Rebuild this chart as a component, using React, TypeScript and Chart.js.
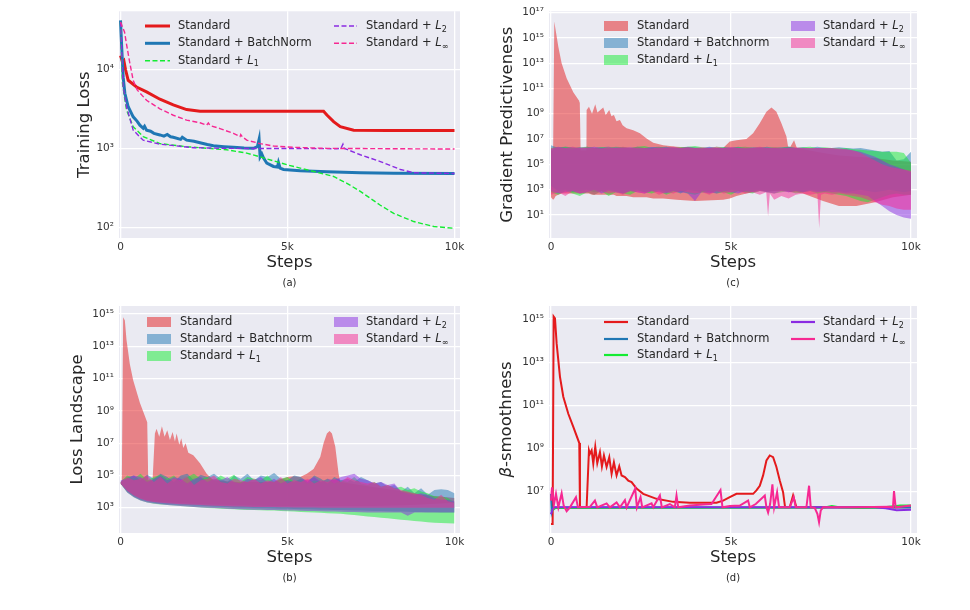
import React, { useEffect, useRef } from 'react';
import { Chart, registerables } from 'chart.js';

Chart.register(...registerables);
Chart.defaults.font.family = '"DejaVu Sans", sans-serif';

const W = 970;
const H = 610;
const BG = '#EAEAF2';
const TEXT = '#262626';
const TICK = '#333333';

// series colours: Standard, BatchNorm, L1, L2, Linf
const COLORS = ['#E41A1C', '#1F77B4', '#14EB32', '#8A2BE2', '#F62892'];
const FILLS = ['rgba(228,26,28,0.5)', 'rgba(31,119,180,0.5)', 'rgba(20,235,50,0.5)', 'rgba(138,43,226,0.5)', 'rgba(246,40,146,0.5)'];

const legendLabelsA = ['Standard', 'Standard + BatchNorm', 'Standard + L_1', 'Standard + L_2', 'Standard + L_∞'];
const legendLabels = ['Standard', 'Standard + Batchnorm', 'Standard + L_1', 'Standard + L_2', 'Standard + L_∞'];

const xTickValues = [0, 5000, 10000];
const xTickLabels = ['0', '5k', '10k'];

const yTicksA = [1e2, 1e3, 1e4];
const yTickLabelsA = ['10²', '10³', '10⁴'];
const yTicksB = [1e3, 1e5, 1e7, 1e9, 1e11, 1e13, 1e15];
const yTickLabelsB = ['10³', '10⁵', '10⁷', '10⁹', '10¹¹', '10¹³', '10¹⁵'];
const yTicksC = [1e1, 1e3, 1e5, 1e7, 1e9, 1e11, 1e13, 1e15, 1e17];
const yTickLabelsC = ['10¹', '10³', '10⁵', '10⁷', '10⁹', '10¹¹', '10¹³', '10¹⁵', '10¹⁷'];
const yTicksD = [1e7, 1e9, 1e11, 1e13, 1e15];
const yTickLabelsD = ['10⁷', '10⁹', '10¹¹', '10¹³', '10¹⁵'];

// ---------------- (a) Training loss ----------------
const aStdSteps = [0, 60, 100, 150, 230, 480, 780, 1180, 1580, 1980, 2380, 3000, 4000, 5000, 6080, 6180, 6380, 6580, 6980, 8000, 10000];
const aStdLoss = [15000, 12500, 13000, 10000, 7300, 6000, 5200, 4200, 3550, 3100, 2950, 2950, 2950, 2950, 2950, 2650, 2180, 1880, 1700, 1680, 1680];
const aBnSteps = [0, 40, 80, 130, 230, 380, 500, 580, 680, 720, 780, 900, 1000, 1180, 1300, 1400, 1500, 1580, 1800, 1850, 1980, 2200, 2380, 2600, 2780, 3100, 3380, 3700, 3980, 4100, 4150, 4180, 4230, 4280, 4330, 4380, 4580, 4700, 4730, 4780, 4880, 5380, 6180, 7180, 8180, 10000];
const aBnLoss = [42000, 17600, 8000, 5000, 3370, 2510, 2200, 1970, 1800, 1900, 1700, 1650, 1550, 1480, 1430, 1500, 1400, 1380, 1300, 1380, 1270, 1230, 1180, 1120, 1080, 1050, 1030, 1010, 1000, 1050, 1300, 780, 850, 760, 700, 650, 590, 580, 660, 560, 540, 520, 505, 490, 485, 480];
const aL1Steps = [0, 60, 180, 380, 680, 1180, 1980, 3180, 3780, 4180, 4980, 5780, 6380, 6780, 7180, 7780, 8180, 8780, 9380, 10000];
const aL1Loss = [40000, 6600, 3060, 1880, 1410, 1150, 1050, 960, 870, 780, 620, 510, 440, 360, 285, 190, 150, 118, 102, 97];
const aL2Steps = [0, 80, 180, 380, 680, 1180, 2180, 3180, 6480, 6600, 6660, 6700, 6780, 7180, 7780, 8380, 8780, 10000];
const aL2Loss = [40000, 6000, 3370, 1700, 1270, 1130, 1020, 1000, 990, 1000, 1130, 1000, 970, 830, 680, 540, 490, 480];
const aLinfSteps = [0, 120, 180, 280, 380, 500, 780, 1180, 1580, 1980, 2380, 2580, 2630, 2680, 2980, 3380, 3580, 3600, 3650, 3780, 4180, 4580, 5180, 6180, 10000];
const aLinfLoss = [40000, 30000, 21000, 12000, 7300, 5500, 4070, 3170, 2630, 2280, 2110, 1970, 2100, 1950, 1780, 1550, 1410, 1500, 1400, 1270, 1150, 1070, 1030, 1000, 980];

// shared step grid for the noisy bands
const gridSteps = [0, 200, 400, 600, 800, 1000, 1200, 1400, 1600, 1800, 2000, 2200, 2400, 2600, 2800, 3000, 3200, 3400, 3600, 3800, 4000, 4200, 4400, 4600, 4800, 5000, 5200, 5400, 5600, 5800, 6000, 6200, 6400, 6600, 6800, 7000, 7200, 7400, 7600, 7800, 8000, 8200, 8400, 8600, 8800, 9000, 9200, 9400, 9600, 9800, 10000];

// ---------------- (b) Loss landscape (log10 of band edges) ----------------
const bStdSteps = [0, 40, 80, 130, 180, 280, 380, 580, 800, 830, 960, 1030, 1080, 1160, 1240, 1320, 1400, 1480, 1560, 1630, 1680, 1760, 1820, 1880, 1950, 2030, 2180, 2380, 2580, 2780, 3500, 4580, 5000, 5180, 5380, 5580, 5780, 5980, 6080, 6180, 6260, 6330, 6430, 6530, 6580, 7500, 8500, 9000, 10000];
const bStdUpLog = [4.6, 4.6, 14.8, 14.6, 13.4, 11.9, 10.9, 9.5, 8.3, 4.7, 4.7, 7.6, 7.9, 7.4, 8.05, 7.4, 7.8, 7.2, 7.7, 7.1, 7.6, 6.9, 7.3, 6.7, 7.0, 6.4, 6.25, 5.75, 5.1, 4.7, 4.6, 4.6, 4.9, 4.95, 4.9, 5.1, 5.4, 6.15, 7.0, 7.6, 7.75, 7.6, 6.8, 5.1, 4.6, 4.3, 4.0, 3.8, 3.6];
const bStdLoLog = [4.45, 4.4, 4.3, 4.2, 4.1, 3.95, 3.8, 3.6, 3.45, 3.44, 3.4, 3.38, 3.37, 3.36, 3.35, 3.34, 3.33, 3.32, 3.31, 3.3, 3.3, 3.29, 3.28, 3.28, 3.27, 3.26, 3.25, 3.23, 3.21, 3.2, 3.15, 3.1, 3.1, 3.1, 3.1, 3.1, 3.1, 3.1, 3.1, 3.1, 3.1, 3.1, 3.1, 3.1, 3.1, 3.1, 3.15, 3.2, 3.3];
const bBnUpLog = [4.6, 4.9, 5.0, 4.7, 5.05, 4.8, 5.1, 4.9, 4.6, 5.0, 5.1, 4.7, 5.05, 4.9, 5.1, 4.8, 4.6, 5.0, 4.8, 5.1, 4.7, 5.0, 4.9, 5.15, 4.8, 4.7, 5.0, 4.9, 4.6, 5.0, 4.8, 4.5, 4.9, 4.7, 4.8, 4.6, 4.9, 4.7, 4.5, 4.6, 4.3, 4.4, 4.0, 4.3, 3.9, 4.2, 3.8, 4.1, 4.15, 4.1, 3.9];
const bBnLoLog = [4.5, 4.0, 3.7, 3.5, 3.38, 3.3, 3.25, 3.22, 3.2, 3.18, 3.16, 3.14, 3.12, 3.1, 3.08, 3.06, 3.04, 3.02, 3.0, 2.99, 2.98, 2.97, 2.96, 2.95, 2.94, 2.93, 2.92, 2.91, 2.9, 2.89, 2.88, 2.87, 2.86, 2.85, 2.84, 2.83, 2.82, 2.81, 2.8, 2.79, 2.78, 2.77, 2.76, 2.75, 2.74, 2.73, 2.72, 2.72, 2.71, 2.71, 2.71];
const bL1UpLog = [4.6, 5.0, 4.8, 5.1, 4.7, 4.9, 5.05, 4.8, 5.0, 4.6, 4.9, 5.1, 4.8, 4.9, 4.7, 5.0, 4.8, 5.05, 4.6, 4.9, 4.8, 4.7, 5.0, 4.6, 4.8, 4.9, 4.6, 4.8, 4.5, 4.7, 4.6, 4.8, 4.5, 4.7, 4.6, 4.9, 4.5, 4.4, 4.6, 4.3, 4.4, 4.2, 4.3, 4.1, 4.2, 4.0, 3.9, 3.7, 3.7, 3.6, 3.3];
const bL1LoLog = [4.5, 3.95, 3.65, 3.45, 3.33, 3.25, 3.2, 3.16, 3.13, 3.1, 3.07, 3.04, 3.01, 2.98, 2.96, 2.94, 2.92, 2.9, 2.88, 2.86, 2.85, 2.84, 2.83, 2.82, 2.8, 2.78, 2.76, 2.74, 2.72, 2.7, 2.68, 2.66, 2.64, 2.62, 2.58, 2.54, 2.5, 2.46, 2.42, 2.38, 2.34, 2.3, 2.26, 2.22, 2.18, 2.14, 2.1, 2.07, 2.05, 2.03, 2.02];
const bL2UpLog = [4.7, 4.8, 5.0, 4.9, 4.6, 4.8, 5.0, 4.7, 4.9, 4.8, 4.5, 4.8, 4.9, 4.6, 4.8, 4.7, 4.9, 4.6, 4.5, 4.8, 4.7, 4.9, 4.6, 4.8, 4.5, 4.7, 4.6, 4.8, 4.7, 4.9, 4.6, 4.8, 4.7, 4.9, 5.0, 5.1, 4.8, 4.7, 4.5, 4.6, 4.4, 4.5, 4.0, 3.9, 3.8, 3.9, 3.8, 3.6, 3.5, 3.5, 3.4];
const bL2LoLog = [4.5, 3.95, 3.65, 3.45, 3.33, 3.26, 3.21, 3.17, 3.14, 3.11, 3.08, 3.05, 3.02, 3.0, 2.98, 2.96, 2.94, 2.92, 2.9, 2.89, 2.88, 2.87, 2.86, 2.85, 2.84, 2.83, 2.82, 2.81, 2.8, 2.79, 2.78, 2.77, 2.76, 2.75, 2.74, 2.73, 2.72, 2.71, 2.71, 2.7, 2.7, 2.7, 2.7, 2.5, 2.7, 2.7, 2.7, 2.7, 2.7, 2.7, 2.7];
const bLinfUpLog = [4.6, 4.9, 4.7, 4.8, 5.0, 4.6, 4.9, 4.5, 4.8, 4.7, 4.9, 4.4, 4.7, 4.8, 5.0, 4.6, 4.5, 4.8, 4.7, 4.6, 4.8, 4.5, 4.7, 4.6, 4.9, 4.5, 4.7, 4.6, 4.8, 4.5, 4.7, 4.6, 4.8, 4.6, 4.9, 4.7, 4.6, 4.5, 4.6, 4.3, 4.4, 4.2, 4.1, 4.0, 3.9, 3.8, 3.6, 3.5, 3.8, 3.4, 3.3];
const bLinfLoLog = [4.5, 4.05, 3.75, 3.55, 3.42, 3.35, 3.3, 3.27, 3.24, 3.22, 3.2, 3.18, 3.16, 3.14, 3.12, 3.1, 3.09, 3.08, 3.07, 3.06, 3.05, 3.05, 3.04, 3.04, 3.03, 3.03, 3.02, 3.02, 3.01, 3.01, 3.0, 3.0, 3.0, 3.0, 3.0, 3.0, 3.0, 3.0, 3.0, 3.0, 3.0, 3.0, 3.0, 3.0, 3.0, 3.0, 3.0, 3.0, 3.0, 3.0, 3.0];

// ---------------- (c) Gradient predictiveness (log10 of band edges) ----------------
const cStdSteps = [0, 60, 92, 130, 204, 296, 435, 620, 786, 800, 823, 985, 990, 1055, 1140, 1230, 1290, 1452, 1520, 1619, 1680, 1748, 1820, 1915, 1990, 2100, 2285, 2470, 2655, 2840, 3117, 3487, 4000, 4782, 4967, 5152, 5430, 5615, 5800, 5985, 6124, 6262, 6400, 6540, 6586, 6650, 6752, 6830, 7000, 7557, 8000, 8482, 9000, 9500, 10000];
const cStdUpLog = [6.1, 6.1, 16.3, 15.6, 14.3, 13.0, 11.8, 10.7, 10.0, 9.9, 6.1, 6.1, 9.3, 9.55, 9.0, 9.75, 9.1, 9.5, 8.9, 9.3, 8.8, 8.9, 8.4, 8.5, 8.1, 7.85, 7.7, 7.45, 7.05, 6.7, 6.5, 6.4, 6.3, 6.3, 6.8, 6.9, 7.0, 7.45, 8.25, 9.15, 9.5, 9.15, 8.25, 7.2, 6.4, 6.4, 6.9, 6.3, 6.2, 5.9, 5.7, 5.6, 5.5, 5.3, 5.2];
const cStdLoLog = [2.4, 2.2, 2.3, 2.5, 2.6, 2.7, 2.7, 2.7, 2.7, 2.7, 2.7, 2.7, 2.7, 2.7, 2.6, 2.6, 2.6, 2.6, 2.6, 2.6, 2.6, 2.6, 2.5, 2.5, 2.5, 2.5, 2.4, 2.4, 2.4, 2.3, 2.3, 2.2, 2.1, 2.2, 2.3, 2.5, 2.7, 2.8, 2.9, 2.9, 2.9, 2.9, 2.9, 2.9, 2.9, 2.8, 2.8, 2.8, 2.7, 2.1, 1.7, 1.7, 2.0, 2.4, 2.6];
const cBnUpLog = [6.5, 6.3, 6.4, 6.35, 6.25, 6.4, 6.3, 6.35, 6.4, 6.3, 6.35, 6.25, 6.4, 6.3, 6.35, 6.4, 6.3, 6.35, 6.3, 6.4, 6.35, 6.3, 6.4, 6.3, 6.35, 6.3, 6.4, 6.3, 6.35, 6.3, 6.4, 6.3, 6.35, 6.4, 6.3, 6.35, 6.3, 6.4, 6.3, 6.3, 6.35, 6.3, 6.25, 6.3, 6.2, 6.1, 6.0, 6.05, 5.3, 5.4, 6.0];
const cBnLoLog = [3.3, 2.9, 3.0, 2.8, 2.9, 3.0, 2.8, 2.9, 3.0, 2.9, 2.7, 2.9, 3.0, 2.8, 2.9, 3.0, 2.8, 2.9, 2.7, 3.0, 2.9, 2.8, 2.7, 2.9, 2.8, 3.0, 2.9, 2.8, 2.9, 3.0, 2.8, 2.9, 3.0, 2.8, 2.9, 2.8, 3.0, 2.9, 2.8, 3.0, 2.9, 2.8, 2.9, 3.0, 2.9, 2.8, 2.9, 3.0, 2.9, 2.8, 2.9];
const cL1UpLog = [6.3, 6.35, 6.4, 6.3, 6.35, 6.4, 6.3, 6.35, 6.3, 6.4, 6.35, 6.3, 6.4, 6.45, 6.3, 6.35, 6.4, 6.3, 6.35, 6.4, 6.45, 6.35, 6.3, 6.4, 6.35, 6.3, 6.35, 6.4, 6.3, 6.35, 6.3, 6.35, 6.3, 6.4, 6.3, 6.35, 6.4, 6.3, 6.35, 6.3, 6.25, 6.3, 6.2, 6.15, 6.1, 6.05, 6.0, 6.0, 6.0, 5.9, 5.1];
const cL1LoLog = [2.8, 2.6, 2.9, 2.7, 2.5, 2.8, 2.6, 2.9, 2.5, 2.8, 2.7, 2.6, 2.9, 2.8, 2.7, 2.9, 2.6, 2.8, 2.9, 2.7, 2.6, 2.8, 2.9, 2.7, 2.8, 2.6, 2.9, 2.8, 2.7, 2.9, 2.8, 2.7, 2.8, 2.9, 2.7, 2.8, 2.9, 2.7, 2.8, 2.7, 2.6, 2.5, 2.3, 2.1, 2.0, 2.2, 2.4, 2.6, 2.7, 2.6, 2.6];
const cL2UpLog = [6.2, 6.4, 6.3, 6.25, 6.35, 6.3, 6.4, 6.3, 6.25, 6.35, 6.3, 6.35, 6.25, 6.3, 6.35, 6.3, 6.4, 6.3, 6.3, 6.35, 6.3, 6.25, 6.35, 6.3, 6.3, 6.35, 6.3, 6.25, 6.3, 6.35, 6.3, 6.3, 6.25, 6.35, 6.3, 6.3, 6.25, 6.3, 6.3, 6.25, 6.2, 6.2, 6.1, 6.0, 5.8, 5.6, 5.3, 5.0, 4.8, 4.6, 4.4];
const cL2LoLog = [2.9, 2.7, 2.8, 2.9, 2.7, 2.8, 3.0, 2.7, 2.9, 2.8, 2.7, 2.9, 2.8, 2.7, 2.9, 2.8, 2.7, 2.9, 2.8, 2.7, 2.1, 2.9, 2.8, 2.7, 2.9, 2.8, 2.7, 2.9, 2.8, 2.9, 2.8, 2.7, 2.9, 2.8, 2.9, 2.8, 2.9, 2.8, 2.9, 2.8, 2.8, 2.7, 2.7, 2.6, 2.5, 2.1, 1.7, 1.3, 1.0, 0.8, 0.7];
const cLinfSteps = [0, 200, 400, 600, 800, 1000, 1200, 1400, 1600, 1800, 2000, 2200, 2400, 2600, 2800, 3000, 3200, 3400, 3600, 3800, 4000, 4200, 4400, 4600, 4800, 5000, 5200, 5400, 5600, 5800, 5980, 6030, 6080, 6200, 6400, 6600, 6800, 7000, 7200, 7400, 7450, 7500, 7600, 7800, 8000, 8200, 8400, 8600, 8800, 9000, 9200, 9400, 9600, 9800, 10000];
const cLinfUpLog = [6.3, 6.35, 6.3, 6.4, 6.3, 6.35, 6.3, 6.25, 6.35, 6.3, 6.4, 6.3, 6.35, 6.3, 6.25, 6.35, 6.3, 6.4, 6.3, 6.35, 6.3, 6.35, 6.3, 6.4, 6.3, 6.35, 6.3, 6.35, 6.3, 6.4, 6.3, 6.3, 6.3, 6.35, 6.3, 6.3, 6.35, 6.3, 6.3, 6.3, 6.3, 6.3, 6.3, 6.3, 6.25, 6.2, 6.1, 5.9, 5.6, 5.3, 5.0, 4.8, 4.7, 4.6, 4.5];
const cLinfLoLog = [2.6, 2.8, 2.5, 2.9, 2.7, 2.8, 2.6, 2.9, 2.7, 2.8, 2.6, 2.9, 2.8, 2.7, 2.9, 2.6, 2.8, 2.7, 2.9, 2.8, 2.7, 2.8, 2.6, 2.9, 2.7, 2.8, 2.9, 2.7, 2.8, 2.6, 2.8, 0.9, 2.7, 2.2, 2.5, 2.3, 2.6, 2.7, 2.6, 2.7, -0.05, 2.6, 2.7, 2.6, 2.7, 2.6, 2.5, 2.4, 2.2, 2.0, 1.8, 1.7, 1.5, 1.4, 1.4];

// ---------------- (d) beta-smoothness ----------------
const dStdSteps = [0, 46, 74, 111, 157, 250, 342, 481, 620, 786, 805, 851, 990, 1055, 1082, 1129, 1175, 1230, 1286, 1360, 1415, 1471, 1545, 1619, 1684, 1748, 1822, 1896, 1961, 2054, 2146, 2239, 2377, 2562, 2932, 3395, 3857, 4597, 4782, 4967, 5152, 5337, 5615, 5707, 5800, 5892, 5985, 6077, 6170, 6262, 6355, 6447, 6503, 6540, 6632, 6725, 6817, 10000];
const dStdBeta = [3.2e5, 3.2e5, 1.3e15, 1.07e15, 7.4e13, 2.1e12, 2.5e11, 4.1e10, 1e10, 1.8e9, 1.9e6, 1.9e6, 1.9e6, 8.3e8, 5.8e8, 8.3e8, 2e8, 1.2e9, 2.1e8, 6.9e8, 1.5e8, 4.8e8, 1.4e8, 4e8, 6.8e7, 2.3e8, 5.7e7, 1.5e8, 5.7e7, 4.8e7, 3.3e7, 2.8e7, 1.4e7, 8e6, 4.7e6, 3.4e6, 3.1e6, 3.1e6, 3.9e6, 5.6e6, 8e6, 8e6, 8e6, 1.15e7, 1.9e7, 5.7e7, 2.8e8, 4.8e8, 4e8, 1.4e8, 3.3e7, 9.6e6, 1.9e6, 1.9e6, 1.9e6, 6.7e6, 1.9e6, 1.9e6];
const dBnSteps = [0, 20, 50, 100, 2000, 5000, 8000, 10000];
const dBnBeta = [8e6, 1.2e6, 1.8e6, 1.85e6, 1.85e6, 1.85e6, 1.85e6, 1.85e6];
const dL1Steps = [0, 60, 120, 3000, 7600, 7800, 8000, 8600, 9200, 9700, 10000];
const dL1Beta = [1.3e6, 1.5e6, 1.75e6, 1.8e6, 1.85e6, 2.2e6, 1.9e6, 1.75e6, 1.85e6, 2.3e6, 2.3e6];
const dL2Steps = [0, 40, 100, 3000, 6000, 9000, 9300, 9600, 10000];
const dL2Beta = [9e5, 1.5e6, 1.9e6, 1.9e6, 1.9e6, 1.9e6, 1.7e6, 1.4e6, 1.45e6];
const dLinfSteps = [0, 28, 83, 139, 204, 296, 352, 435, 527, 694, 749, 1082, 1221, 1286, 1545, 1637, 1822, 1915, 2054, 2100, 2340, 2387, 2488, 2535, 2794, 2840, 3025, 3080, 3302, 3440, 3487, 3534, 3857, 4227, 4459, 4708, 4764, 4967, 5245, 5476, 5522, 5689, 5939, 5985, 6031, 6087, 6151, 6198, 6281, 6336, 6632, 6743, 6799, 7095, 7169, 7215, 7326, 7400, 7446, 7493, 7557, 8482, 9407, 9500, 9528, 9574, 10000];
const dLinfBeta = [3.9e6, 1.6e7, 2.6e6, 8e6, 1.9e6, 8.5e6, 2.3e6, 1.26e6, 1.9e6, 5.6e6, 1.9e6, 2e6, 3.9e6, 1.9e6, 2.9e6, 1.9e6, 3.2e6, 1.9e6, 4.1e6, 1.9e6, 1.4e7, 1.9e6, 5.6e6, 1.9e6, 2.9e6, 1.9e6, 6.7e6, 1.9e6, 2.7e6, 1.9e6, 6.7e6, 1.9e6, 2.3e6, 2.6e6, 2.7e6, 1.2e7, 1.9e6, 2.2e6, 2.3e6, 3.9e6, 1.9e6, 2.7e6, 6.7e6, 1.9e6, 1.1e6, 2.7e6, 2.2e7, 1.9e6, 9.6e6, 1.9e6, 1.9e6, 5.6e6, 1.9e6, 1.9e6, 1.9e7, 1.9e6, 1.8e6, 9.5e5, 3.9e5, 1.35e6, 1.9e6, 1.9e6, 2e6, 1.9e6, 1.07e7, 1.9e6, 2.3e6];

// ---------------- helpers ----------------
const pts = (xs: number[], ys: number[]) => xs.map((x, i) => ({ x, y: ys[i] }));
const ptsLog = (xs: number[], es: number[]) => xs.map((x, i) => ({ x, y: Math.pow(10, es[i]) }));

function lineDs(xs: number[], ys: number[], k: number, width: number, dash: number[]) {
  return {
    data: pts(xs, ys), borderColor: COLORS[k], borderWidth: width, borderDash: dash,
    pointRadius: 0, fill: false, tension: 0, order: 5 - k,
  };
}

function bandDs(xs: number[], up: number[], lo: number[], k: number) {
  return [
    { data: ptsLog(xs, up), borderWidth: 0, borderColor: 'rgba(0,0,0,0)', pointRadius: 0, fill: false, tension: 0, order: 5 - k },
    { data: ptsLog(xs, lo), borderWidth: 0, borderColor: 'rgba(0,0,0,0)', pointRadius: 0, fill: 2 * k, backgroundColor: FILLS[k], tension: 0, order: 5 - k },
  ];
}

type Part = { t: string; it?: boolean };

function drawParts(ctx: CanvasRenderingContext2D, parts: Part[], x: number, y: number, size: number, center: boolean) {
  const fonts = parts.map((p) => `${p.it ? 'italic ' : ''}${size}px "DejaVu Sans"`);
  let total = 0;
  parts.forEach((p, i) => { ctx.font = fonts[i]; total += ctx.measureText(p.t).width; });
  let cx = center ? x - total / 2 : x;
  ctx.textAlign = 'left';
  ctx.textBaseline = 'middle';
  parts.forEach((p, i) => { ctx.font = fonts[i]; ctx.fillText(p.t, cx, y); cx += ctx.measureText(p.t).width; });
}

function drawLabel(ctx: CanvasRenderingContext2D, label: string, x: number, y: number, size: number) {
  const m = label.match(/^(.*)L_(.)$/u);
  ctx.textAlign = 'left';
  ctx.textBaseline = 'middle';
  ctx.fillStyle = TEXT;
  const normal = `${size}px "DejaVu Sans"`;
  if (!m) { ctx.font = normal; ctx.fillText(label, x, y); return; }
  ctx.font = normal;
  ctx.fillText(m[1], x, y);
  let cx = x + ctx.measureText(m[1]).width;
  ctx.font = `italic ${size}px "DejaVu Sans"`;
  ctx.fillText('L', cx, y);
  cx += ctx.measureText('L').width;
  ctx.font = `${Math.round(size * 0.7 * 10) / 10}px "DejaVu Sans"`;
  ctx.fillText(m[2], cx, y + size * 0.3);
}

type Legend = {
  labels: string[];
  kind: 'line' | 'patch';
  widths: number[];
  dashes: number[][];
  cols: number[][]; // [x1, x2, textX]
  rows: number[];
};

type Panel = {
  id: string;
  area: { l: number; t: number; r: number; b: number };
  xMin: number; xMax: number; yMin: number; yMax: number;
  yTicks: number[]; yTickLabels: string[];
  datasets: any[];
  yTitle: Part[]; yTitleX: number;
  caption: string;
  legend: Legend;
};

function decorPlugin(p: Panel) {
  return {
    id: 'decor' + p.id,
    beforeDraw(chart: any) {
      const { ctx, chartArea: a } = chart;
      ctx.save();
      ctx.fillStyle = BG;
      ctx.fillRect(a.left, a.top, a.right - a.left, a.bottom - a.top);
      ctx.restore();
    },
    afterDraw(chart: any) {
      const ctx: CanvasRenderingContext2D = chart.ctx;
      const a = chart.chartArea;
      const cx = (a.left + a.right) / 2;
      const cy = (a.top + a.bottom) / 2;
      ctx.save();
      ctx.fillStyle = TEXT;
      drawParts(ctx, [{ t: 'Steps' }], cx, a.bottom + 25, 16.5, true);
      drawParts(ctx, [{ t: p.caption }], cx, a.bottom + 45, 10, true);
      ctx.save();
      ctx.translate(p.yTitleX, cy);
      ctx.rotate(-Math.PI / 2);
      drawParts(ctx, p.yTitle, 0, 0, 16.5, true);
      ctx.restore();
      const L = p.legend;
      L.labels.forEach((label, i) => {
        const col = i < 3 ? 0 : 1;
        const row = i < 3 ? i : i - 3;
        const y = L.rows[row];
        const [x1, x2, tx] = L.cols[col];
        if (L.kind === 'patch') {
          ctx.fillStyle = FILLS[i];
          ctx.fillRect(x1, y - 5, x2 - x1, 10);
        } else {
          ctx.strokeStyle = COLORS[i];
          ctx.lineWidth = L.widths[i];
          ctx.setLineDash(L.dashes[i]);
          ctx.beginPath();
          ctx.moveTo(x1, y);
          ctx.lineTo(x2, y);
          ctx.stroke();
          ctx.setLineDash([]);
        }
        drawLabel(ctx, label, tx, y, 11.5);
      });
      ctx.restore();
    },
  };
}

function makeConfig(p: Panel): any {
  const YW = 60;
  const XH = 30;
  const grid = { color: '#ffffff', lineWidth: 1.3, drawTicks: false };
  return {
    type: 'line',
    data: { datasets: p.datasets },
    options: {
      animation: false,
      responsive: false,
      events: [],
      layout: { padding: { left: p.area.l - YW, right: W - p.area.r, top: p.area.t, bottom: H - p.area.b - XH } },
      plugins: { legend: { display: false }, tooltip: { enabled: false } },
      scales: {
        x: {
          type: 'linear', min: p.xMin, max: p.xMax,
          afterBuildTicks: (s: any) => { s.ticks = xTickValues.map((v) => ({ value: v })); },
          afterFit: (s: any) => { s.height = XH; },
          grid, border: { display: false },
          ticks: { autoSkip: false, maxRotation: 0, padding: 3, color: TICK, font: { size: 10.5 }, callback: (_v: any, i: number) => xTickLabels[i] },
        },
        y: {
          type: 'logarithmic', min: p.yMin, max: p.yMax,
          afterBuildTicks: (s: any) => { s.ticks = p.yTicks.map((v) => ({ value: v })); },
          afterFit: (s: any) => { s.width = YW; },
          grid, border: { display: false },
          ticks: { autoSkip: false, padding: 5, color: TICK, font: { size: 10.5 }, callback: (_v: any, i: number) => p.yTickLabels[i] },
        },
      },
    },
    plugins: [decorPlugin(p)],
  };
}

const panelA: Panel = {
  id: 'a',
  area: { l: 119, t: 11, r: 460, b: 238 },
  xMin: -45, xMax: 10165, yMin: 73, yMax: 54700,
  yTicks: yTicksA, yTickLabels: yTickLabelsA,
  datasets: [
    lineDs(aStdSteps, aStdLoss, 0, 3, []),
    lineDs(aBnSteps, aBnLoss, 1, 3, []),
    lineDs(aL1Steps, aL1Loss, 2, 1.4, [5, 2.5]),
    lineDs(aL2Steps, aL2Loss, 3, 1.4, [5, 2.5]),
    lineDs(aLinfSteps, aLinfLoss, 4, 1.4, [5, 2.5]),
  ],
  yTitle: [{ t: 'Training Loss' }], yTitleX: 85,
  caption: '(a)',
  legend: {
    labels: legendLabelsA, kind: 'line',
    widths: [3, 3, 1.5, 1.5, 1.5], dashes: [[], [], [5, 2.5], [5, 2.5], [5, 2.5]],
    cols: [[145, 170, 178], [334, 357, 366]], rows: [26, 43.3, 60.7],
  },
};

const panelB: Panel = {
  id: 'b',
  area: { l: 119, t: 306, r: 460, b: 533 },
  xMin: -45, xMax: 10165, yMin: 27, yMax: 3.2e15,
  yTicks: yTicksB, yTickLabels: yTickLabelsB,
  datasets: [
    ...bandDs(bStdSteps, bStdUpLog, bStdLoLog, 0),
    ...bandDs(gridSteps, bBnUpLog, bBnLoLog, 1),
    ...bandDs(gridSteps, bL1UpLog, bL1LoLog, 2),
    ...bandDs(gridSteps, bL2UpLog, bL2LoLog, 3),
    ...bandDs(gridSteps, bLinfUpLog, bLinfLoLog, 4),
  ],
  yTitle: [{ t: 'Loss Landscape' }], yTitleX: 78,
  caption: '(b)',
  legend: {
    labels: legendLabels, kind: 'patch', widths: [], dashes: [],
    cols: [[147, 171, 180], [334, 358, 366]], rows: [322, 339, 356],
  },
};

const panelC: Panel = {
  id: 'c',
  area: { l: 549, t: 11, r: 917, b: 238 },
  xMin: -55, xMax: 10167, yMin: 0.15, yMax: 1.26e17,
  yTicks: yTicksC, yTickLabels: yTickLabelsC,
  datasets: [
    ...bandDs(cStdSteps, cStdUpLog, cStdLoLog, 0),
    ...bandDs(gridSteps, cBnUpLog, cBnLoLog, 1),
    ...bandDs(gridSteps, cL1UpLog, cL1LoLog, 2),
    ...bandDs(gridSteps, cL2UpLog, cL2LoLog, 3),
    ...bandDs(cLinfSteps, cLinfUpLog, cLinfLoLog, 4),
  ],
  yTitle: [{ t: 'Gradient Predictiveness' }], yTitleX: 508,
  caption: '(c)',
  legend: {
    labels: legendLabels, kind: 'patch', widths: [], dashes: [],
    cols: [[604, 628, 637], [791, 815, 823]], rows: [26, 43, 60],
  },
};

const panelD: Panel = {
  id: 'd',
  area: { l: 549, t: 306, r: 917, b: 533 },
  xMin: -55, xMax: 10167, yMin: 1.23e5, yMax: 4e15,
  yTicks: yTicksD, yTickLabels: yTickLabelsD,
  datasets: [
    lineDs(dStdSteps, dStdBeta, 0, 2, []),
    lineDs(dBnSteps, dBnBeta, 1, 2, []),
    lineDs(dL1Steps, dL1Beta, 2, 2, []),
    lineDs(dL2Steps, dL2Beta, 3, 2, []),
    lineDs(dLinfSteps, dLinfBeta, 4, 2, []),
  ],
  yTitle: [{ t: 'β', it: true }, { t: '-smoothness' }], yTitleX: 507,
  caption: '(d)',
  legend: {
    labels: legendLabels, kind: 'line',
    widths: [2.2, 2.2, 2.2, 2.2, 2.2], dashes: [[], [], [], [], []],
    cols: [[604, 628, 637], [791, 815, 823]], rows: [322, 339, 355],
  },
};

function PanelCanvas({ panel }: { panel: Panel }) {
  const ref = useRef<HTMLCanvasElement>(null);
  useEffect(() => {
    const chart = new Chart(ref.current as HTMLCanvasElement, makeConfig(panel));
    return () => chart.destroy();
  }, [panel]);
  return (
    <canvas
      ref={ref}
      width={W}
      height={H}
      style={{ position: 'absolute', left: 0, top: 0, width: W, height: H }}
    />
  );
}

export default function App() {
  return (
    <div style={{ position: 'absolute', left: 0, top: 0, width: W, height: H, background: '#ffffff', overflow: 'hidden' }}>
      <PanelCanvas panel={panelA} />
      <PanelCanvas panel={panelB} />
      <PanelCanvas panel={panelC} />
      <PanelCanvas panel={panelD} />
    </div>
  );
}
